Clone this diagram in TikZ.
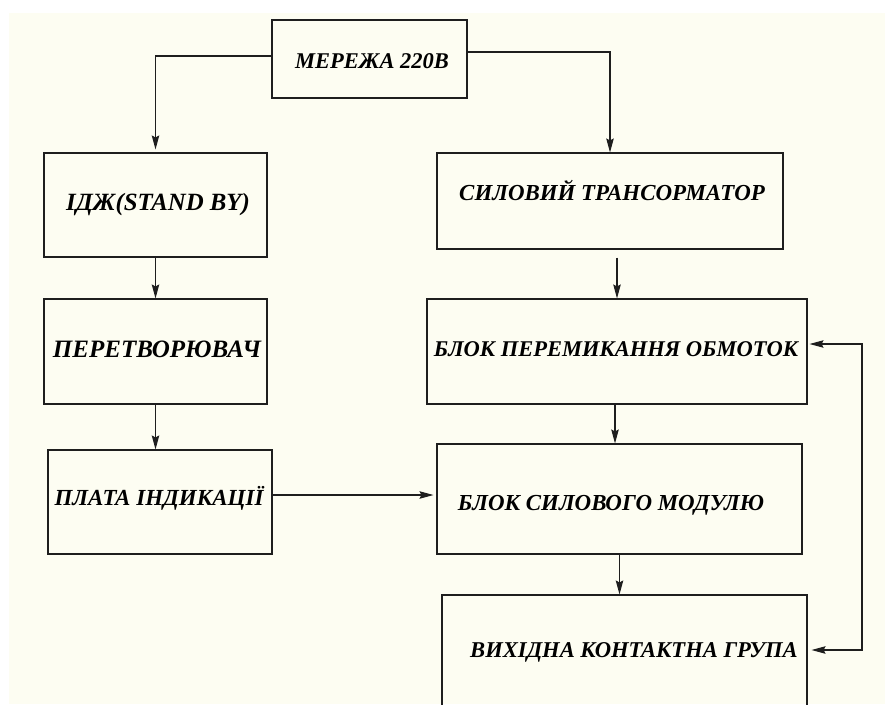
\documentclass[tikz,border=0pt]{standalone}
\usepackage{fontspec}
\setmainfont{Liberation Serif}
\usetikzlibrary{arrows.meta}
\definecolor{sheet}{RGB}{253,253,242}
\definecolor{ink}{RGB}{30,30,30}
\tikzset{
  darthead/.tip={Stealth[length=14pt,width=7.5pt,inset=2pt]},
  block/.style={draw=ink, line width=1.1pt, rectangle, inner sep=0pt},
  caption/.style={font=\fontsize{#1}{#1}\selectfont\bfseries\itshape, inner sep=0pt,
                  text height=15pt, text depth=0pt, anchor=center},
  caption/.default=23,
  flow/.style={draw=ink, line width=1.1pt, -darthead},
}
\begin{document}
\begin{tikzpicture}[x=1pt,y=-1pt]
  \useasboundingbox (0,0) rectangle (885,704);
  \fill[white] (0,0) rectangle (885,704);
  \fill[sheet] (9,13) rectangle (885,704);
  \begin{scope}
    \clip (0,0) rectangle (885,704);

    % boxes
    \node[block, minimum width=195pt, minimum height=78pt]  (merezha) at (369.5,59)  {};
    \node[block, minimum width=223pt, minimum height=104pt] (idzh)    at (155.5,205) {};
    \node[block, minimum width=223pt, minimum height=105pt] (peret)   at (155.5,351.5) {};
    \node[block, minimum width=224pt, minimum height=104pt] (plata)   at (160,502)   {};
    \node[block, minimum width=346pt, minimum height=96pt]  (silov)   at (610,201)   {};
    \node[block, minimum width=380pt, minimum height=105pt] (peremyk) at (617,351.5) {};
    \node[block, minimum width=365pt, minimum height=110pt] (modul)   at (619.5,499) {};
    \node[block, minimum width=365pt, minimum height=120pt] (vyhid)   at (624.5,655) {};

    % captions
    \node[caption=22.5] (t-merezha) at (372,61)  {МЕРЕЖА 220В};
    \node[caption=24.8] (t-idzh)    at (158,203) {ІДЖ(STAND BY)};
    \node[caption=25]   (t-peret)   at (157,350) {ПЕРЕТВОРЮВАЧ};
    \node[caption=23]   (t-plata)   at (159,498) {ПЛАТА ІНДИКАЦІЇ};
    \node[caption=22.9] (t-silov)   at (612,193) {СИЛОВИЙ ТРАНСОРМАТОР};
    \node[caption=22.5] (t-peremyk) at (616,349) {БЛОК ПЕРЕМИКАННЯ ОБМОТОК};
    \node[caption=22.9] (t-modul)   at (611,503) {БЛОК СИЛОВОГО МОДУЛЮ};
    \node[caption=22.6] (t-vyhid)   at (634,650) {ВИХІДНА КОНТАКТНА ГРУПА};

    % connectors
    \draw[flow, shorten >=3pt] ([yshift=3pt]merezha.west) -| (idzh.north);
    \draw[flow] ([yshift=7pt]merezha.east) -| (silov.north);
    \draw[flow] (idzh.south) -- (peret.north);
    \draw[flow] (peret.south) -- (peret.south |- plata.north);
    \draw[flow, shorten >=3pt] ([yshift=7pt]plata.east) -- ([yshift=7pt]plata.east -| modul.west);
    \draw[flow] ([yshift=-8pt]silov.south -| peremyk.north) -- (peremyk.north);
    \draw[flow] ([xshift=-2pt]peremyk.south) -- ([xshift=-2pt]peremyk.south |- modul.north);
    \draw[flow] (modul.south) -- (modul.south |- vyhid.north);
    \coordinate (loop) at (862,0);
    \draw[flow, darthead-darthead, shorten >=2pt, shorten <=4pt]
      ([yshift=5pt]vyhid.east) -- ([yshift=5pt]vyhid.east -| loop)
      |- ([yshift=7.5pt]peremyk.east);
  \end{scope}
\end{tikzpicture}
\end{document}
